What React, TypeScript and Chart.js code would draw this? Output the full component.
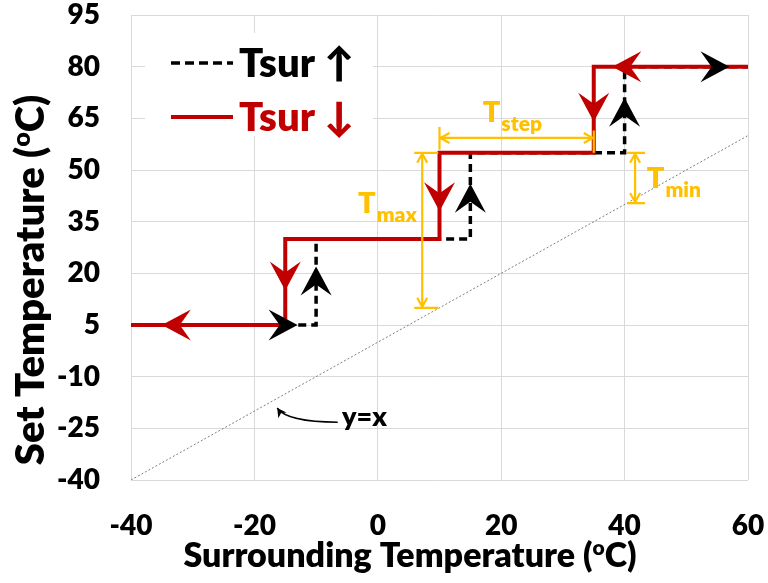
import React, { useEffect, useRef } from "react";
import { Chart, registerables } from "chart.js";

Chart.register(...registerables);

const FONT = "Lato, 'Open Sans', 'DejaVu Sans', sans-serif";
const W = "800";
const RED = "#C00000";
const GOLD = "#FFC000";
const GRID = "#D9D9D9";

// axes
const xMin = -40;
const xMax = 60;
const yMin = -40;
const yMax = 95;
const xTickValues = [-40, -20, 0, 20, 40, 60];
const yTickValues = [-40, -25, -10, 5, 20, 35, 50, 65, 80, 95];
const xTitle = ["Surrounding Temperature (", "o", "C)"];
const yTitle = ["Set Temperature (", "o", "C)"];

// series labels
const seriesLabels = ["Tsur \u2191", "Tsur \u2193"];

// Tsur rising (black dashed)
const upX = [-15, -10, -10, 15, 15, 40, 40, 60];
const upY = [5, 5, 30, 30, 55, 55, 80, 80];
// Tsur falling (red solid)
const downX = [-40, -15, -15, 10, 10, 35, 35, 60];
const downY = [5, 5, 30, 30, 55, 55, 80, 80];
// y = x reference
const refX = [-40, 60];
const refY = [-40, 60];

// arrowhead tips (data coords) and directions
const upArrowX = [-13, -10, 15, 40, 57];
const upArrowY = [5, 22, 46, 71, 80];
const upArrowDir = ["right", "up", "up", "up", "right"];
const downArrowX = [-35, -15, 10, 35, 38];
const downArrowY = [5, 15, 38, 64, 80];
const downArrowDir = ["left", "down", "down", "down", "left"];

// dimension markers
const tMaxX = 7.2;
const tMaxY = [10, 55];
const tStepY = 59.3;
const tStepX = [10, 35];
const tStepExtTop = [62.5, 61.5];
const tStepExtBottom = [55, 55];
const tMinX = 41.7;
const tMinY = [40.4, 55];
const dimMain = ["T", "T", "T"];
const dimSub = ["max", "step", "min"];
const dimLabelX = [-3.2, 17.0, 43.6];
const dimLabelY = [37.5, 63.9, 44.8];

// y=x callout
const yxText = "y=x";
const yxTextX = -5.8;
const yxTextY = -24.4;
const yxCurveX = [-6.5, -14.7, -16.3];
const yxCurveY = [-23.2, -23.2, -19.1];

const DIR: Record<string, number> = {
  right: 0,
  left: Math.PI,
  up: -Math.PI / 2,
  down: Math.PI / 2,
};

function stealth(ctx: CanvasRenderingContext2D, x: number, y: number, ang: number, color: string) {
  const len = 29;
  const half = 15.5;
  ctx.save();
  ctx.translate(x, y);
  ctx.rotate(ang);
  ctx.beginPath();
  ctx.moveTo(0, 0);
  ctx.lineTo(-len, -half);
  ctx.lineTo(-len * 0.62, 0);
  ctx.lineTo(-len, half);
  ctx.closePath();
  ctx.fillStyle = color;
  ctx.fill();
  ctx.restore();
}

function openHead(ctx: CanvasRenderingContext2D, x: number, y: number, ang: number, len = 9, half = 5) {
  ctx.save();
  ctx.translate(x, y);
  ctx.rotate(ang);
  ctx.beginPath();
  ctx.moveTo(-len, -half);
  ctx.lineTo(0, 0);
  ctx.lineTo(-len, half);
  ctx.stroke();
  ctx.restore();
}

function richText(
  ctx: CanvasRenderingContext2D,
  parts: string[],
  cx: number,
  baseY: number,
  size: number,
  color: string
) {
  const small = Math.round(size * 0.62);
  const fonts = [`${W} ${size}px ${FONT}`, `${W} ${small}px ${FONT}`, `${W} ${size}px ${FONT}`];
  const dys = [0, -size * 0.36, 0];
  const widths = parts.map((p, i) => {
    ctx.font = fonts[i];
    return ctx.measureText(p).width;
  });
  const total = widths.reduce((a, b) => a + b, 0);
  let x = cx - total / 2;
  ctx.fillStyle = color;
  ctx.textBaseline = "alphabetic";
  ctx.textAlign = "left";
  parts.forEach((p, i) => {
    ctx.font = fonts[i];
    ctx.fillText(p, x, baseY + dys[i]);
    x += widths[i];
  });
}

const overlay = {
  id: "overlay",
  afterDatasetsDraw(chart: any) {
    const ctx: CanvasRenderingContext2D = chart.ctx;
    const xs = chart.scales.x;
    const ys = chart.scales.y;
    const px = (v: number) => xs.getPixelForValue(v);
    const py = (v: number) => ys.getPixelForValue(v);

    // red arrowheads then black arrowheads
    downArrowX.forEach((v, i) => stealth(ctx, px(v), py(downArrowY[i]), DIR[downArrowDir[i]], RED));
    upArrowX.forEach((v, i) => stealth(ctx, px(v), py(upArrowY[i]), DIR[upArrowDir[i]], "#000"));

    // gold dimension markers
    ctx.save();
    ctx.strokeStyle = GOLD;
    ctx.lineWidth = 2.2;
    ctx.lineCap = "butt";
    // Tmax
    const mx = px(tMaxX);
    const mTop = py(tMaxY[1]);
    const mBot = py(tMaxY[0]);
    ctx.beginPath();
    ctx.moveTo(mx, mTop);
    ctx.lineTo(mx, mBot);
    ctx.moveTo(mx - 8, mTop);
    ctx.lineTo(mx + 16, mTop);
    ctx.moveTo(mx - 8, mBot);
    ctx.lineTo(mx + 16, mBot);
    ctx.stroke();
    openHead(ctx, mx, mTop + 1, -Math.PI / 2);
    openHead(ctx, mx, mBot - 1, Math.PI / 2);
    // Tstep
    const sy = py(tStepY);
    const sl = px(tStepX[0]);
    const sr = px(tStepX[1]);
    ctx.beginPath();
    ctx.moveTo(sl, sy);
    ctx.lineTo(sr, sy);
    ctx.moveTo(sl, py(tStepExtTop[0]));
    ctx.lineTo(sl, py(tStepExtBottom[0]) - 3);
    ctx.moveTo(sr, py(tStepExtTop[1]));
    ctx.lineTo(sr, py(tStepExtBottom[1]));
    ctx.stroke();
    openHead(ctx, sl + 1, sy, Math.PI);
    openHead(ctx, sr - 1, sy, 0);
    // Tmin
    const nx = px(tMinX);
    const nTop = py(tMinY[1]);
    const nBot = py(tMinY[0]);
    ctx.beginPath();
    ctx.moveTo(nx, nTop);
    ctx.lineTo(nx, nBot);
    ctx.moveTo(nx - 8, nTop);
    ctx.lineTo(nx + 10, nTop);
    ctx.moveTo(nx - 8, nBot);
    ctx.lineTo(nx + 10, nBot);
    ctx.stroke();
    openHead(ctx, nx, nTop + 1, -Math.PI / 2);
    openHead(ctx, nx, nBot - 1, Math.PI / 2);
    ctx.restore();

    // gold labels
    ctx.save();
    ctx.fillStyle = GOLD;
    ctx.textAlign = "left";
    ctx.textBaseline = "alphabetic";
    dimMain.forEach((t, i) => {
      const lx = px(dimLabelX[i]);
      const ly = py(dimLabelY[i]);
      ctx.font = `${W} 29px ${FONT}`;
      ctx.fillText(t, lx, ly);
      const w = ctx.measureText(t).width;
      ctx.font = `${W} 21px ${FONT}`;
      ctx.fillText(dimSub[i], lx + w + 1, ly + 9);
    });
    ctx.restore();

    // y=x callout
    ctx.save();
    ctx.fillStyle = "#000";
    ctx.font = `${W} 27px ${FONT}`;
    ctx.textAlign = "left";
    ctx.textBaseline = "alphabetic";
    ctx.fillText(yxText, px(yxTextX), py(yxTextY));
    ctx.strokeStyle = "#000";
    ctx.lineWidth = 1.5;
    const c0x = px(yxCurveX[0]);
    const c0y = py(yxCurveY[0]);
    const c1x = px(yxCurveX[1]);
    const c1y = py(yxCurveY[1]);
    const c2x = px(yxCurveX[2]);
    const c2y = py(yxCurveY[2]);
    ctx.beginPath();
    ctx.moveTo(c0x, c0y);
    ctx.quadraticCurveTo(c1x, c1y, c2x, c2y);
    ctx.stroke();
    const ang = Math.atan2(c2y - c1y, c2x - c1x);
    ctx.beginPath();
    ctx.translate(c2x, c2y);
    ctx.rotate(ang);
    ctx.moveTo(0, 0);
    ctx.lineTo(-9, -5);
    ctx.lineTo(-6.5, 0);
    ctx.lineTo(-9, 5);
    ctx.closePath();
    ctx.fillStyle = "#000";
    ctx.fill();
    ctx.restore();

    // legend box
    ctx.save();
    ctx.fillStyle = "#fff";
    ctx.fillRect(145, 33, 228, 103);
    const rows = [
      { y: 63, color: "#000", dash: [9, 5], width: 3.5 },
      { y: 117, color: RED, dash: [], width: 4 },
    ];
    rows.forEach((r, i) => {
      ctx.strokeStyle = r.color;
      ctx.lineWidth = r.width;
      ctx.setLineDash(r.dash);
      ctx.beginPath();
      ctx.moveTo(171, r.y);
      ctx.lineTo(233, r.y);
      ctx.stroke();
      ctx.setLineDash([]);
      ctx.fillStyle = r.color;
      ctx.font = `${W} 40px ${FONT}`;
      ctx.textBaseline = "middle";
      ctx.fillText(seriesLabels[i], 239, r.y + 1);
    });
    ctx.restore();
  },
  afterDraw(chart: any) {
    const ctx: CanvasRenderingContext2D = chart.ctx;
    ctx.save();
    richText(ctx, xTitle, 410, 567, 34, "#000");
    ctx.translate(44, 280);
    ctx.rotate(-Math.PI / 2);
    richText(ctx, yTitle, 0, 0, 40, "#000");
    ctx.restore();
  },
};

const zeroPad = (s: any) => {
  s.paddingTop = 0;
  s.paddingBottom = 0;
  s.paddingLeft = 0;
  s.paddingRight = 0;
};

export default function App() {
  const ref = useRef<HTMLCanvasElement | null>(null);
  useEffect(() => {
    document.body.style.margin = "0";
    document.body.style.overflow = "hidden";
    const canvas = ref.current;
    if (!canvas) return;
    const tickFont = { family: FONT, size: 28, weight: W };
    const chart = new Chart(canvas, {
      type: "line",
      data: {
        datasets: [
          {
            label: seriesLabels[1],
            data: downX.map((x, i) => ({ x, y: downY[i] })),
            borderColor: RED,
            borderWidth: 4,
            pointRadius: 0,
            tension: 0,
            order: 0,
            borderJoinStyle: "miter",
          },
          {
            label: seriesLabels[0],
            data: upX.map((x, i) => ({ x, y: upY[i] })),
            borderColor: "#000",
            borderWidth: 3.5,
            borderDash: [8, 5],
            pointRadius: 0,
            tension: 0,
            order: 1,
          },
          {
            label: "y=x",
            data: refX.map((x, i) => ({ x, y: refY[i] })),
            borderColor: "#7F7F7F",
            borderWidth: 1,
            borderDash: [2, 2],
            pointRadius: 0,
            order: 2,
          },
        ],
      },
      options: {
        responsive: false,
        animation: false,
        devicePixelRatio: 1,
        layout: { padding: { top: 15, right: 20, left: 0, bottom: 0 } },
        plugins: { legend: { display: false }, tooltip: { enabled: false } },
        scales: {
          x: {
            type: "linear",
            min: xMin,
            max: xMax,
            afterBuildTicks: (s: any) => {
              s.ticks = xTickValues.map((v) => ({ value: v }));
            },
            afterFit: (s: any) => {
              s.height = 103;
              zeroPad(s);
            },
            grid: { color: GRID, lineWidth: 1, drawTicks: false },
            border: { display: false },
            ticks: { font: tickFont, color: "#000", padding: 29, maxRotation: 0 },
          },
          y: {
            type: "linear",
            min: yMin,
            max: yMax,
            afterBuildTicks: (s: any) => {
              s.ticks = yTickValues.map((v) => ({ value: v }));
            },
            afterFit: (s: any) => {
              s.width = 131;
              zeroPad(s);
            },
            grid: { color: GRID, lineWidth: 1, drawTicks: false },
            border: { display: false },
            ticks: { font: tickFont, color: "#000", padding: 31 },
          },
        },
      },
      plugins: [overlay],
    } as any);
    return () => chart.destroy();
  }, []);
  return (
    <div style={{ width: 768, height: 583 }}>
      <canvas ref={ref} width={768} height={583} style={{ display: "block" }} />
    </div>
  );
}
